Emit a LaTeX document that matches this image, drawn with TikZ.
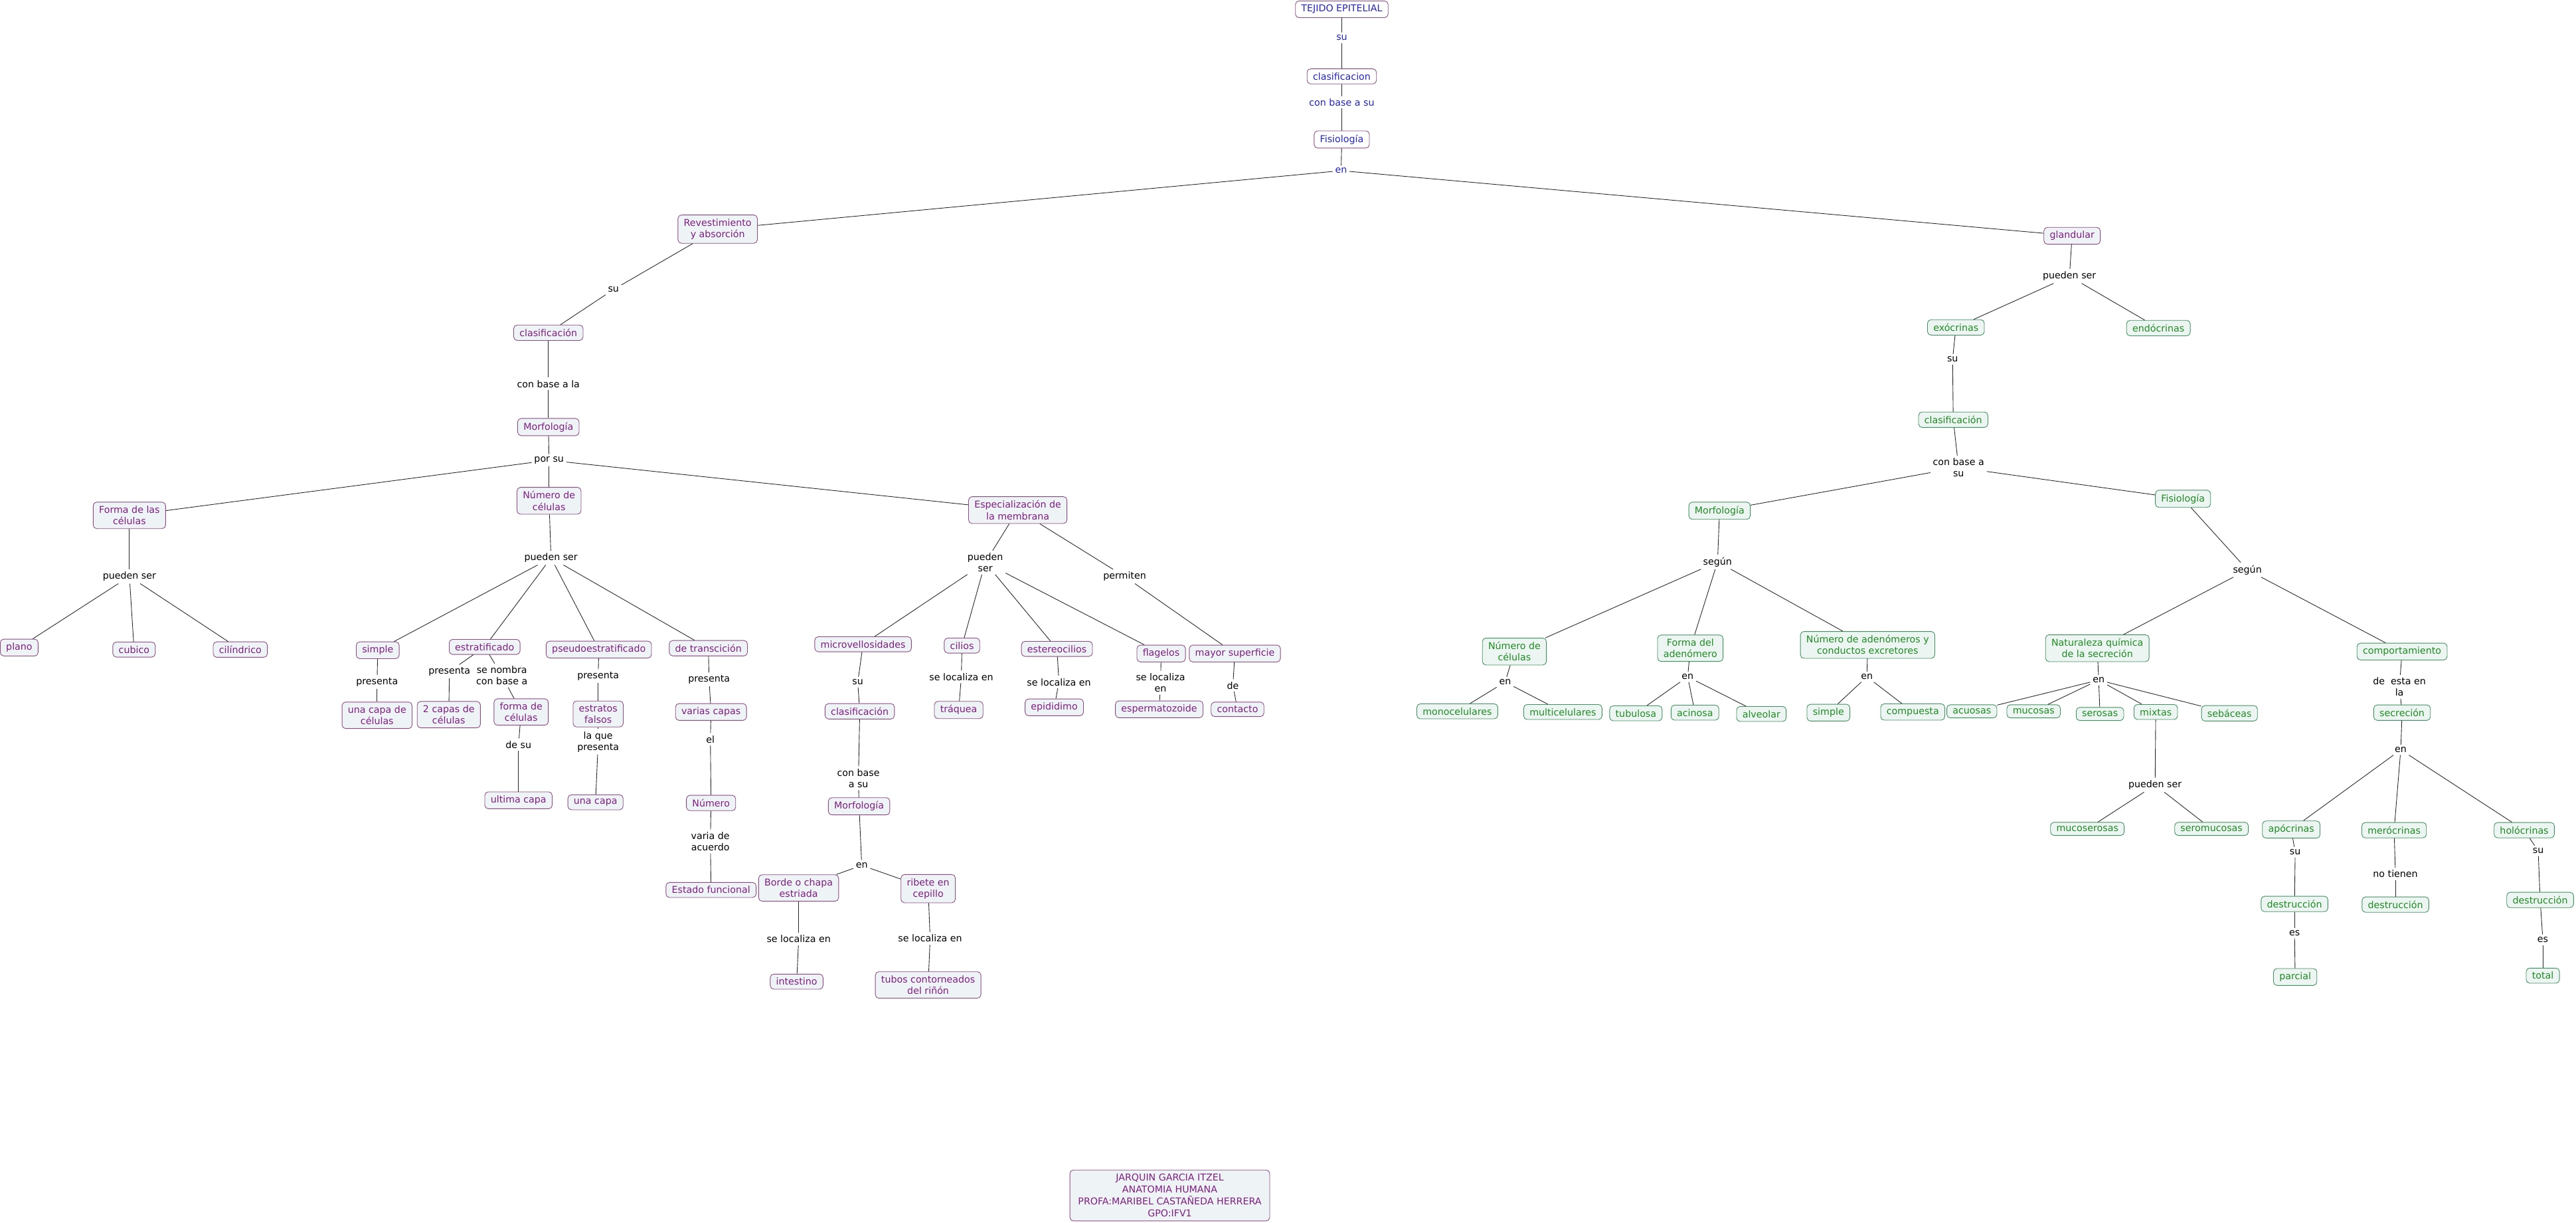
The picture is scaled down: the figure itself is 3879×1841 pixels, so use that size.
\documentclass[tikz,border=0pt]{standalone}
\usepackage{fontspec}
\setmainfont{DejaVu Sans}
\usepackage{tikz}
\definecolor{plum}{HTML}{7E1F82}
\definecolor{plumline}{HTML}{8C4A82}
\definecolor{royal}{HTML}{2424C0}
\definecolor{leaf}{HTML}{1F8A23}
\definecolor{leafline}{HTML}{3F8F60}
\definecolor{paper}{HTML}{EEF3F5}
\definecolor{mint}{HTML}{EDF5F2}
\tikzset{
  concept/.style={
    draw=plumline,
    fill=paper,
    text=plum,
    rounded corners=3pt,
    align=center,
    inner xsep=5pt,
    inner ysep=3.3pt,
    line width=0.5pt,
  },
  gconcept/.style={concept, draw=leafline, fill=mint, text=leaf},
  topconcept/.style={concept, fill=white, text=royal},
  phrase/.style={text=black, align=center, inner sep=2pt},
  tphrase/.style={phrase, text=royal},
  conn/.style={draw=black!85, line width=0.5pt},
}

\begin{document}
\begin{tikzpicture}[x=0.02cm, y=-0.02cm, font=\fontsize{8.1}{9.8}\selectfont]
  \fill[white] (0,0) rectangle (3879,1841);

  % top
  \node[topconcept] (tejido) at (2020,14) {TEJIDO EPITELIAL};
  \node[tphrase] (suTop) at (2020,57) {su};
  \node[topconcept] (clasTop) at (2020,115) {clasificacion};
  \node[tphrase] (cbTop) at (2020,154) {con base a su};
  \node[topconcept] (fisTop) at (2020,210) {Fisiología};
  \node[tphrase] (enTop) at (2019,257) {en};

  % revestimiento y absorcion
  \node[concept] (rev) at (1080,345) {Revestimiento\\y absorción};
  \node[phrase] (suRev) at (923,436) {su};
  \node[concept] (clasRev) at (825,501) {clasificación};
  \node[phrase] (cbRev) at (825,578) {con base a la};
  \node[concept] (morRev) at (825,643) {Morfología};
  \node[phrase] (porSu) at (826,693) {por su};
  \node[concept] (forma) at (194,776) {Forma de las\\células};
  \node[concept] (numCel) at (826,754) {Número de\\células};
  \node[concept] (espec) at (1532,768) {Especialización de\\la membrana};

  % forma de las celulas
  \node[phrase] (psForma) at (194,868) {pueden ser};
  \node[concept] (plano) at (28,975) {plano};
  \node[concept] (cubico) at (201,978) {cubico};
  \node[concept] (cilin) at (361,978) {cilíndrico};

  % numero de celulas
  \node[phrase] (psNum) at (829,840) {pueden ser};
  \node[concept] (simple) at (568,979) {simple};
  \node[concept] (estrat) at (729,974) {estratificado};
  \node[concept] (pseudo) at (901,978) {pseudoestratificado};
  \node[concept] (transc) at (1066,976) {de transcición};
  \node[phrase] (preS) at (567,1027) {presenta};
  \node[concept] (unaCapaCel) at (567,1077) {una capa de\\células};
  \node[phrase] (preE) at (676,1011) {presenta};
  \node[concept] (dosCapas) at (675,1076) {2 capas de\\células};
  \node[phrase] (nombra) at (755,1017) {se nombra\\con base a};
  \node[concept] (formaCel) at (784,1072) {forma de\\células};
  \node[phrase] (deSu) at (780,1121) {de su};
  \node[concept] (ultima) at (780,1205) {ultima capa};
  \node[phrase] (preP) at (900,1018) {presenta};
  \node[concept] (falsos) at (900,1075) {estratos\\falsos};
  \node[phrase] (laQue) at (900,1117) {la que\\presenta};
  \node[concept] (unaCapa) at (896,1208) {una capa};
  \node[phrase] (preT) at (1067,1023) {presenta};
  \node[concept] (varias) at (1070,1072) {varias capas};
  \node[phrase] (el) at (1069,1113) {el};
  \node[concept] (numero) at (1070,1209) {Número};
  \node[phrase] (varia) at (1069,1267) {varia de\\acuerdo};
  \node[concept] (estado) at (1070,1340) {Estado funcional};

  % especializacion de la membrana
  \node[phrase] (psEsp) at (1483,847) {pueden\\ser};
  \node[phrase] (permiten) at (1693,868) {permiten};
  \node[concept] (micro) at (1299,970) {microvellosidades};
  \node[concept] (cilios) at (1448,972) {cilios};
  \node[concept] (estereo) at (1591,977) {estereocilios};
  \node[concept] (flagelos) at (1748,984) {flagelos};
  \node[concept] (mayor) at (1859,984) {mayor superficie};
  \node[phrase] (suMic) at (1291,1027) {su};
  \node[concept] (clasMic) at (1294,1071) {clasificación};
  \node[phrase] (locC) at (1447,1019) {se localiza en};
  \node[concept] (traquea) at (1443,1069) {tráquea};
  \node[phrase] (locE) at (1594,1027) {se localiza en};
  \node[concept] (epid) at (1587,1065) {epididimo};
  \node[phrase] (locF) at (1747,1028) {se localiza\\en};
  \node[concept] (esperma) at (1745,1068) {espermatozoide};
  \node[phrase] (de) at (1856,1032) {de};
  \node[concept] (contacto) at (1863,1068) {contacto};
  \node[phrase] (cbMic) at (1292,1172) {con base\\a su};
  \node[concept] (morMic) at (1293,1214) {Morfología};
  \node[phrase] (enMic) at (1297,1303) {en};
  \node[concept] (borde) at (1202,1337) {Borde o chapa\\estriada};
  \node[concept] (ribete) at (1397,1338) {ribete en\\cepillo};
  \node[phrase] (locB) at (1202,1414) {se localiza en};
  \node[concept] (intestino) at (1199,1478) {intestino};
  \node[phrase] (locR) at (1400,1413) {se localiza en};
  \node[concept] (tubos) at (1397,1483) {tubos contorneados\\del riñón};

  % glandular
  \node[concept] (gland) at (3120,355) {glandular};
  \node[phrase] (psGl) at (3116,416) {pueden ser};
  \node[gconcept] (exo) at (2945,493) {exócrinas};
  \node[gconcept] (endo) at (3250,494) {endócrinas};
  \node[phrase] (suExo) at (2940,541) {su};
  \node[gconcept] (clasExo) at (2941,632) {clasificación};
  \node[phrase] (cbExo) at (2949,704) {con base a\\su};
  \node[gconcept] (morGl) at (2589,769) {Morfología};
  \node[gconcept] (fisGl) at (3287,751) {Fisiología};

  % morfologia glandular
  \node[phrase] (segM) at (2586,846) {según};
  \node[gconcept] (numG) at (2280,981) {Número de\\células};
  \node[gconcept] (formaAd) at (2545,976) {Forma del\\adenómero};
  \node[gconcept] (numAd) at (2812,971) {Número de adenómeros y\\conductos excretores};
  \node[phrase] (enNum) at (2266,1027) {en};
  \node[gconcept] (mono) at (2194,1071) {monocelulares};
  \node[gconcept] (multi) at (2353,1072) {multicelulares};
  \node[phrase] (enForma) at (2541,1019) {en};
  \node[gconcept] (tubulosa) at (2463,1074) {tubulosa};
  \node[gconcept] (acinosa) at (2552,1073) {acinosa};
  \node[gconcept] (alveolar) at (2652,1075) {alveolar};
  \node[phrase] (enAd) at (2811,1019) {en};
  \node[gconcept] (simpleG) at (2753,1073) {simple};
  \node[gconcept] (compuesta) at (2880,1072) {compuesta};

  % fisiologia glandular
  \node[phrase] (segF) at (3384,858) {según};
  \node[gconcept] (natur) at (3158,976) {Naturaleza química\\de la secreción};
  \node[gconcept] (comport) at (3617,981) {comportamiento};
  \node[phrase] (enNat) at (3160,1024) {en};
  \node[gconcept] (acuosas) at (2969,1071) {acuosas};
  \node[gconcept] (mucosas) at (3062,1071) {mucosas};
  \node[gconcept] (serosas) at (3162,1075) {serosas};
  \node[gconcept] (mixtas) at (3246,1072) {mixtas};
  \node[gconcept] (sebaceas) at (3357,1074) {sebáceas};
  \node[phrase] (psMix) at (3245,1182) {pueden ser};
  \node[gconcept] (mucoser) at (3143,1248) {mucoserosas};
  \node[gconcept] (seromuc) at (3330,1248) {seromucosas};
  \node[phrase] (deEsta) at (3613,1034) {de\ \ esta en\\la};
  \node[gconcept] (secrec) at (3617,1073) {secreción};
  \node[phrase] (enSec) at (3615,1129) {en};
  \node[gconcept] (apo) at (3450,1249) {apócrinas};
  \node[gconcept] (mero) at (3605,1250) {merócrinas};
  \node[gconcept] (holo) at (3801,1250) {holócrinas};
  \node[phrase] (suApo) at (3456,1283) {su};
  \node[gconcept] (destA) at (3455,1361) {destrucción};
  \node[phrase] (esA) at (3455,1405) {es};
  \node[gconcept] (parcial) at (3456,1471) {parcial};
  \node[phrase] (noTienen) at (3607,1316) {no tienen};
  \node[gconcept] (destM) at (3607,1362) {destrucción};
  \node[phrase] (suHolo) at (3822,1281) {su};
  \node[gconcept] (destH) at (3825,1355) {destrucción};
  \node[phrase] (esH) at (3829,1415) {es};
  \node[gconcept] (total) at (3829,1469) {total};

  % firma
  \node[concept, font=\fontsize{8.1}{10.3}\selectfont, inner xsep=7pt] (firma) at (1761,1800) {JARQUIN GARCIA ITZEL\\ANATOMIA HUMANA\\PROFA:MARIBEL CASTAÑEDA HERRERA\\GPO:IFV1};

  % connectors
  \foreach \a/\b in {tejido/suTop, suTop/clasTop, clasTop/cbTop, cbTop/fisTop, fisTop/enTop,
      enTop/rev, enTop/gland,
      rev/suRev, suRev/clasRev, clasRev/cbRev, cbRev/morRev, morRev/porSu,
      porSu/forma, porSu/numCel, porSu/espec,
      forma/psForma, psForma/plano, psForma/cubico, psForma/cilin,
      numCel/psNum, psNum/simple, psNum/estrat, psNum/pseudo, psNum/transc,
      simple/preS, preS/unaCapaCel, estrat/preE, preE/dosCapas,
      estrat/nombra, nombra/formaCel, formaCel/deSu, deSu/ultima,
      pseudo/preP, preP/falsos, falsos/laQue, laQue/unaCapa,
      transc/preT, preT/varias, varias/el, el/numero, numero/varia, varia/estado,
      espec/psEsp, espec/permiten, permiten/mayor,
      psEsp/micro, psEsp/cilios, psEsp/estereo, psEsp/flagelos,
      micro/suMic, suMic/clasMic, clasMic/cbMic, cbMic/morMic, morMic/enMic,
      enMic/borde, enMic/ribete, borde/locB, locB/intestino, ribete/locR, locR/tubos,
      cilios/locC, locC/traquea, estereo/locE, locE/epid,
      flagelos/locF, locF/esperma, mayor/de, de/contacto,
      gland/psGl, psGl/exo, psGl/endo, exo/suExo, suExo/clasExo, clasExo/cbExo,
      cbExo/morGl, cbExo/fisGl,
      morGl/segM, segM/numG, segM/formaAd, segM/numAd,
      numG/enNum, enNum/mono, enNum/multi,
      formaAd/enForma, enForma/tubulosa, enForma/acinosa, enForma/alveolar,
      numAd/enAd, enAd/simpleG, enAd/compuesta,
      fisGl/segF, segF/natur, segF/comport,
      natur/enNat, enNat/acuosas, enNat/mucosas, enNat/serosas, enNat/mixtas, enNat/sebaceas,
      mixtas/psMix, psMix/mucoser, psMix/seromuc,
      comport/deEsta, deEsta/secrec, secrec/enSec, enSec/apo, enSec/mero, enSec/holo,
      apo/suApo, suApo/destA, destA/esA, esA/parcial,
      mero/noTienen, noTienen/destM,
      holo/suHolo, suHolo/destH, destH/esH, esH/total} {
    \draw[conn] (\a) -- (\b);
  }
\end{tikzpicture}
\end{document}
